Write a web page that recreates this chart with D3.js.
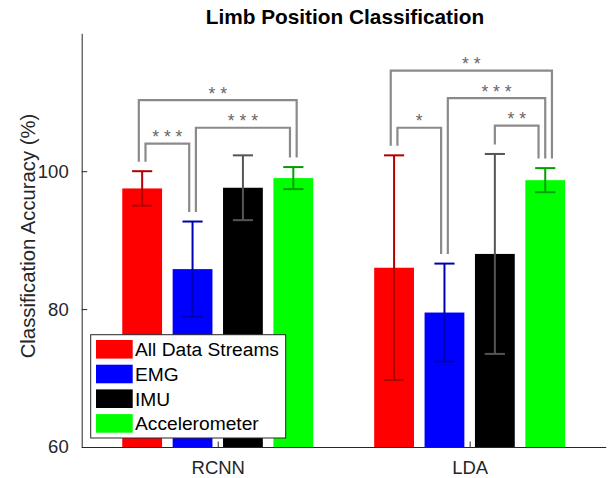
<!DOCTYPE html>
<html>
<head>
<meta charset="utf-8">
<script src="https://cdn.jsdelivr.net/npm/d3@7"></script>
<style>
  body { margin: 0; background: #fff; }
  svg text { font-family: "Liberation Sans", Arial, Helvetica, sans-serif; }
</style>
</head>
<body>
<svg id="chart" width="610" height="478"></svg>
<script>
// data
var categories = ["RCNN", "LDA"];
var seriesNames = ["All Data Streams", "EMG", "IMU", "Accelerometer"];
var allStreams = [97.5, 86.0];
var emg = [85.8, 79.5];
var imu = [97.6, 88.0];
var accel = [99.0, 98.7];
var allStreamsErr = [2.5, 16.3];
var emgErr = [6.9, 7.1];
var imuErr = [4.7, 14.5];
var accelErr = [1.6, 1.75];
var yTicks = [60, 80, 100];

// significance brackets: category, bar a, bar b, height, stars
var brackets = [
  { cat: 0, a: 0, b: 1, level: 104.0, label: "* * *" },
  { cat: 0, a: 1, b: 3, level: 106.3, label: "* * *" },
  { cat: 0, a: 0, b: 3, level: 110.3, label: "* *" },
  { cat: 1, a: 0, b: 1, level: 106.3, label: "*" },
  { cat: 1, a: 2, b: 3, level: 106.6, label: "* *" },
  { cat: 1, a: 1, b: 3, level: 110.6, label: "* * *" },
  { cat: 1, a: 0, b: 3, level: 114.6, label: "* *" }
];

var barColors = ["#ff0000", "#0000ff", "#000000", "#00ff00"];
var errColors = ["#b00000", "#0000b0", "#555555", "#00a000"];
var offsets = [-0.3, -0.1, 0.1, 0.3];

var means = [allStreams, emg, imu, accel];
var errs = [allStreamsErr, emgErr, imuErr, accelErr];

var svg = d3.select("#chart");
var ink = "#262626";

var x = d3.scaleLinear().domain([0.46, 2.54]).range([81.7, 605.7]);
var y = d3.scaleLinear().domain([60, 120]).range([447, 33.3]);
var barW = x(0.158) - x(0);
var capW = x(0.08) - x(0);

var bars = [];
categories.forEach(function(c, ci) {
  seriesNames.forEach(function(s, si) {
    bars.push({ ci: ci, si: si, cx: x(ci + 1 + offsets[si]), v: means[si][ci], e: errs[si][ci] });
  });
});

svg.append("g").selectAll("rect")
  .data(bars).enter().append("rect")
    .attr("x", function(d) { return d.cx - barW / 2; })
    .attr("width", barW)
    .attr("y", function(d) { return y(d.v); })
    .attr("height", function(d) { return y(60) - y(d.v); })
    .attr("fill", function(d) { return barColors[d.si]; });

var eb = svg.append("g").selectAll("g")
  .data(bars).enter().append("g")
    .attr("stroke", function(d) { return errColors[d.si]; })
    .attr("stroke-width", 2);
eb.append("line")
  .attr("x1", function(d) { return d.cx; }).attr("x2", function(d) { return d.cx; })
  .attr("y1", function(d) { return y(d.v - d.e); }).attr("y2", function(d) { return y(d.v + d.e); });
eb.append("line")
  .attr("x1", function(d) { return d.cx - capW / 2; }).attr("x2", function(d) { return d.cx + capW / 2; })
  .attr("y1", function(d) { return y(d.v + d.e); }).attr("y2", function(d) { return y(d.v + d.e); });
eb.append("line")
  .attr("x1", function(d) { return d.cx - capW / 2; }).attr("x2", function(d) { return d.cx + capW / 2; })
  .attr("y1", function(d) { return y(d.v - d.e); }).attr("y2", function(d) { return y(d.v - d.e); });

// work out where each bracket leg sits on its bar
function legX(br, self, other) {
  var attached = brackets.filter(function(o) { return o.cat == br.cat && (o.a == self || o.b == self); });
  var key = function(o) {
    var oth = o.a == self ? o.b : o.a;
    return oth < self ? -oth : 10 - oth;
  };
  attached.sort(function(p, q) { return key(p) - key(q); });
  var k = attached.indexOf(br), n = attached.length;
  return x(br.cat + 1 + offsets[self]) + (k - (n - 1) / 2) * 6.7;
}
function legBottom(cat, i) {
  return y(means[i][cat] + errs[i][cat]) - 9.5;
}

var bg = svg.append("g");
brackets.forEach(function(br) {
  var xa = legX(br, br.a, br.b), xb = legX(br, br.b, br.a), yl = y(br.level);
  bg.append("path")
    .attr("d", "M" + xa + "," + legBottom(br.cat, br.a) + "V" + yl + "H" + xb + "V" + legBottom(br.cat, br.b))
    .attr("fill", "none")
    .attr("stroke", "#8a8a8a")
    .attr("stroke-width", 2.2);
  bg.append("text")
    .attr("x", (xa + xb) / 2)
    .attr("y", yl - 0.5)
    .attr("text-anchor", "middle")
    .attr("fill", "#666")
    .style("font-size", "17.5px")
    .text(br.label);
});

// axes
var yAxis = svg.append("g").attr("transform", "translate(" + x(0.46) + ",0)")
  .call(d3.axisLeft(y).tickValues(yTicks).tickSizeInner(-5.5).tickSizeOuter(0).tickPadding(13));
var xAxis = svg.append("g").attr("transform", "translate(0," + y(60) + ")")
  .call(d3.axisBottom(x).tickValues([1, 2]).tickFormat(function(d) { return categories[d - 1]; })
    .tickSizeInner(-5.5).tickSizeOuter(0).tickPadding(14));
[yAxis, xAxis].forEach(function(a) {
  a.select(".domain").attr("stroke", ink).attr("stroke-width", 1);
  a.selectAll(".tick line").attr("stroke", ink);
  a.selectAll("text").attr("fill", ink).style("font-size", "18.5px").style("font-family", "'Liberation Sans', Arial, sans-serif");
});

svg.append("text")
  .attr("transform", "translate(35,236) rotate(-90)")
  .attr("text-anchor", "middle")
  .attr("fill", ink)
  .style("font-size", "20.3px")
  .text("Classification Accuracy (%)");

svg.append("text")
  .attr("x", 345).attr("y", 23.5)
  .attr("text-anchor", "middle")
  .attr("fill", "#000")
  .style("font-size", "20.8px")
  .style("font-weight", "bold")
  .text("Limb Position Classification");

// legend
var lg = svg.append("g");
lg.append("rect")
  .attr("x", 90.7).attr("y", 334.7).attr("width", 195).attr("height", 103.3)
  .attr("fill", "#fff").attr("stroke", ink).attr("stroke-width", 1);
var items = lg.selectAll("g.item").data(seriesNames).enter().append("g")
  .attr("transform", function(d, i) { return "translate(96," + (349.3 + i * 24.7) + ")"; });
items.append("rect")
  .attr("x", 0).attr("y", -9.3).attr("width", 36.7).attr("height", 18.6)
  .attr("fill", function(d, i) { return barColors[i]; });
items.append("text")
  .attr("x", 39).attr("y", 6.8)
  .attr("fill", "#000")
  .style("font-size", "19.2px")
  .text(function(d) { return d; });
</script>
</body>
</html>
